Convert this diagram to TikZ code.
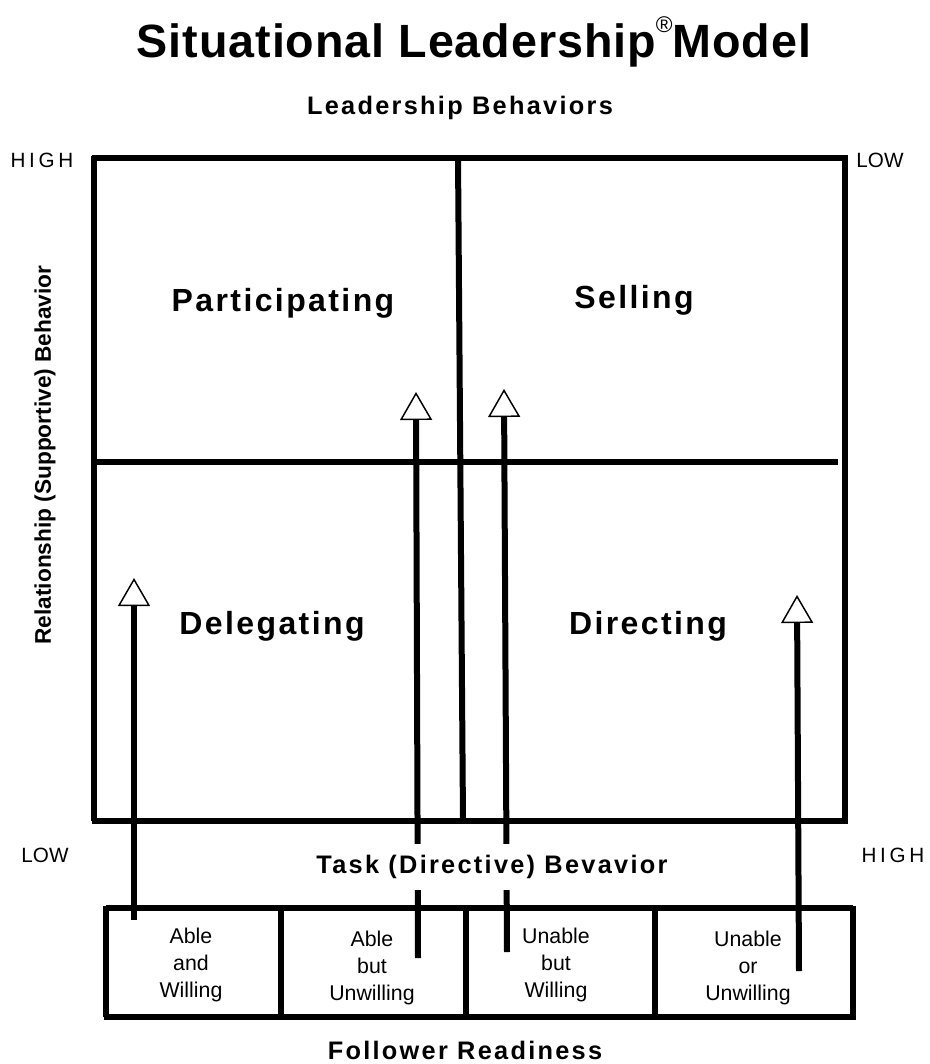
\documentclass[tikz,border=0pt]{standalone}
\usepackage{fontspec}
\setmainfont{Liberation Sans}
\usetikzlibrary{arrows.meta}

\tikzset{
  frame/.style={line width=4.5pt},
  rise/.style={line width=4.5pt,
    -{Triangle[width=24pt,length=21pt,fill=white,line width=1.1pt]}},
  quad/.style={font=\fontsize{24}{29}\selectfont\bfseries\addfontfeature{LetterSpace=7.5}},
  axis/.style={font=\fontsize{19}{23}\selectfont\bfseries\addfontfeature{LetterSpace=9}},
  endlabel/.style={font=\fontsize{15.5}{18}\selectfont},
  cell/.style={align=center,font=\fontsize{16}{20}\selectfont}
}

\begin{document}
\begin{tikzpicture}[x=0.75pt,y=-0.75pt]
   \useasboundingbox (0,0) rectangle (929,1064);

   % headings
   \node (title) at (474,42) {\fontsize{35}{40}\selectfont\bfseries\addfontfeature{LetterSpace=2}%
      Situational Leadership\raisebox{0.55em}{\fontsize{17}{17}\selectfont\mdseries ®}Model};
   \node[axis] (behav) at (460,108) {Leadership Behaviors};

   % the four quadrants
   \draw[frame] (92,158) -- (848,158);
   \draw[frame] (94,156) -- (94,821);
   \draw[frame] (845,156) -- (845,821);
   \draw[frame] (92,821) -- (848,821);
   \draw[frame] (458,156) -- (463,821);
   \draw[frame] (94,462) -- (838,462);

   \node[quad] (part) at (283,303) {Participating};
   \node[quad] (sell) at (634,300) {Selling};
   \node[quad] (dele) at (272,626) {Delegating};
   \node[quad] (dire) at (648,626) {Directing};

   \node[endlabel] (hightop) at (42,160) {\addfontfeature{LetterSpace=18}HIGH};
   \node[endlabel] (lowtop) at (880,160) {LOW};
   \node[endlabel] (lowbot) at (45,855) {LOW};
   \node[endlabel] (highbot) at (893,855) {\addfontfeature{LetterSpace=18}HIGH};
   \node[font=\fontsize{17}{20}\selectfont\bfseries,rotate=90] (rel) at (45,455)
      {Relationship (Supportive) Behavior};

   % readiness arrows
   \coordinate (aw) at (134,920);  \coordinate (awtip) at (134,578);
   \coordinate (bu) at (418,958);  \coordinate (butip) at (416,392);
   \coordinate (ubw) at (507,952); \coordinate (ubwtip) at (504,389);
   \coordinate (uou) at (799,971); \coordinate (uoutip) at (797,595);
   \draw[rise] (aw) -- (awtip);
   \draw[rise] (bu) -- (butip);
   \draw[rise] (ubw) -- (ubwtip);
   \draw[rise] (uou) -- (uoutip);

   \node[axis,fill=white,minimum height=34pt,inner xsep=2pt] (task) at (492,867)
      {Task (Directive) Bevavior};

   % follower readiness boxes
   \draw[frame] (106,908) -- (853,908);
   \draw[frame] (106,906) -- (106,1017);
   \draw[frame] (853,906) -- (853,1020);
   \draw[frame] (104,1017) -- (855,1017);
   \draw[frame] (281,908) -- (281,1020);
   \draw[frame] (466,908) -- (466,1017);
   \draw[frame] (655,908) -- (655,1017);

   \node[cell] (c1) at (191,965) {Able\\and\\Willing};
   \node[cell] (c2) at (372,968) {Able\\but\\Unwilling};
   \node[cell] (c3) at (556,965) {Unable\\but\\Willing};
   \node[cell] (c4) at (748,968) {Unable\\or\\Unwilling};

   \node[axis] (ready) at (465,1050) {Follower Readiness};
  \end{tikzpicture}
\end{document}
